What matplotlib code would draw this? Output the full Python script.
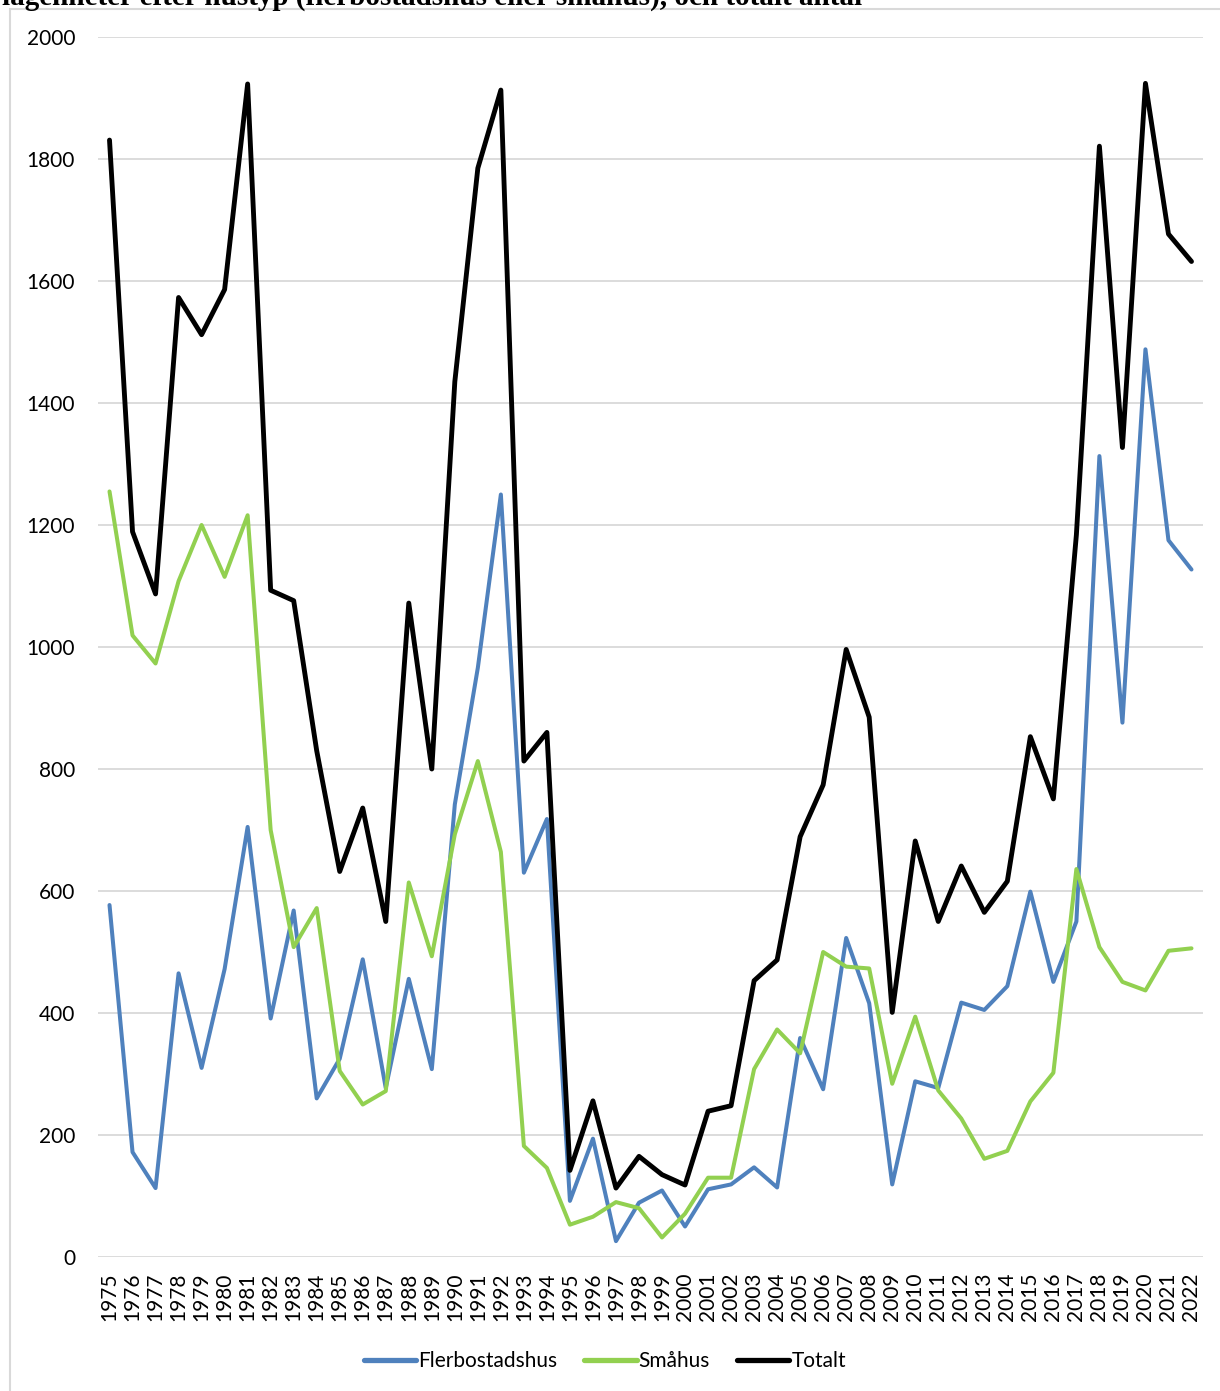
import matplotlib
matplotlib.use("Agg")
import matplotlib.pyplot as plt
from matplotlib.patches import Rectangle

# data
years = list(range(1975, 2023))
flerbostadshus = [577, 172, 113, 465, 310, 472, 705, 391, 568, 260,
                  325, 488, 277, 456, 308, 742, 966, 1250, 630, 718,
                  92, 194, 26, 89, 109, 50, 111, 119, 147, 114,
                  359, 275, 523, 416, 119, 288, 277, 417, 405, 444,
                  599, 451, 550, 1313, 876, 1488, 1175, 1127]
smahus = [1255, 1019, 973, 1108, 1200, 1115, 1216, 700, 508, 572,
          305, 250, 272, 614, 493, 693, 813, 664, 182, 146,
          53, 66, 90, 80, 32, 71, 130, 130, 308, 373,
          334, 500, 476, 473, 284, 394, 273, 227, 161, 174,
          255, 302, 636, 508, 451, 437, 502, 506]
totalt = [1831, 1189, 1087, 1573, 1512, 1586, 1923, 1093, 1076, 830,
          632, 736, 550, 1072, 800, 1435, 1785, 1913, 813, 860,
          142, 256, 113, 165, 135, 118, 239, 248, 453, 487,
          689, 774, 996, 885, 401, 682, 550, 641, 565, 616,
          853, 751, 1184, 1821, 1327, 1924, 1677, 1632]
series_names = ["Flerbostadshus", "Småhus", "Totalt"]
yticks = list(range(0, 2001, 200))

W, H = 1220, 1391
fig = plt.figure(figsize=(W / 100, H / 100), dpi=100)
plt.rcParams['font.family'] = ['Lato', 'DejaVu Sans']

# chart border
fig.patches.append(Rectangle((10 / W, -0.01), 1.0, 1 - 9 / H + 0.01,
                             transform=fig.transFigure, fill=False,
                             edgecolor="#D9D9D9", linewidth=1.5))

# title, cut off at the top edge as in the source
fig.text(2 / W, 1 - 5 / H, "lägenheter efter hustyp (flerbostadshus eller småhus), och totalt antal",
         family="Liberation Serif", fontweight="bold", fontsize=21,
         ha="left", va="baseline")

ax = fig.add_axes([98 / W, 1 - 1257 / H, (1203 - 98) / W, 1220 / H])
ax.plot(years, flerbostadshus, color="#4F81BD", lw=2.9, label=series_names[0],
        solid_joinstyle="round", solid_capstyle="round")
ax.plot(years, smahus, color="#92D050", lw=2.9, label=series_names[1],
        solid_joinstyle="round", solid_capstyle="round")
ax.plot(years, totalt, color="#000000", lw=3.5, label=series_names[2],
        solid_joinstyle="round", solid_capstyle="round")

ax.set_xlim(1974.5, 2022.5)
ax.set_ylim(0, 2000)
ax.set_yticks(yticks)
ax.set_xticks(years)
ax.set_xticklabels([str(y) for y in years], rotation=90)
ax.tick_params(axis="y", length=0, pad=16.5, labelsize=15)
ax.tick_params(axis="x", length=0, pad=11, labelsize=15)
for s in ax.spines.values():
    s.set_visible(False)
ax.grid(axis="y", color="#D9D9D9", linewidth=1.3)
ax.set_axisbelow(True)

leg = fig.legend(loc="center", bbox_to_anchor=(605 / W, 1 - 1361 / H), ncol=3,
                 frameon=False, fontsize=15, handlelength=2.5, handletextpad=0.1,
                 columnspacing=1.3)
for line in leg.get_lines():
    line.set_linewidth(3.8)
    line.set_solid_capstyle("round")

fig.savefig("out.png", dpi=100)
